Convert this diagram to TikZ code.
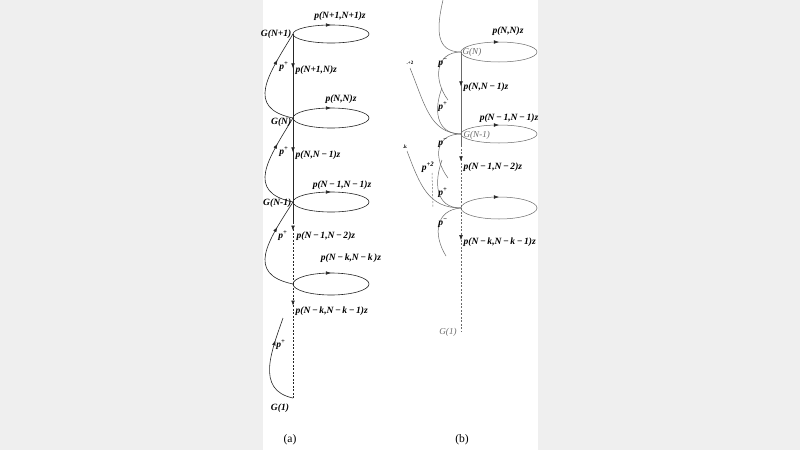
\documentclass[tikz,border=0pt]{standalone}
\usepackage{fontspec}
\setmainfont{Liberation Serif}
\usetikzlibrary{arrows.meta,decorations.markings}
\definecolor{lineA}{HTML}{262626}
\definecolor{lineB}{HTML}{6A6A6A}
\definecolor{bgGrey}{HTML}{EFEFEF}
\tikzset{
  markarr/.style={postaction={decorate},
    decoration={markings,mark=at position #1 with {\arrow[lineA]{Latex[length=5pt,width=3.6pt]}}}},
}

\begin{document}
\begin{tikzpicture}[x=0.035cm,y=-0.035cm,
    lbl/.style={font=\fontsize{9.5}{11}\selectfont\bfseries\itshape,inner sep=0.5pt},
    glblB/.style={font=\fontsize{9}{11}\selectfont\itshape,text=lineB,inner sep=0.5pt},
    smalllbl/.style={font=\fontsize{5}{6}\selectfont\bfseries,inner sep=0.3pt},
    caplbl/.style={font=\fontsize{11.5}{13}\selectfont,inner sep=0.5pt},
    pathA/.style={draw=lineA,line width=0.6pt},
    pathB/.style={draw=lineB,line width=0.5pt},
    dashA/.style={dash pattern=on 2pt off 1.5pt}]
  % background and frame of the figure
  \fill[bgGrey] (0,0) rectangle (800,450);
  \fill[white] (263,0) rectangle (538,450);
  \useasboundingbox (0,0) rectangle (800,450);

  % ---------- (a) ----------
  \coordinate (aG1) at (293,34);
  \coordinate (aG2) at (293,118);
  \coordinate (aG3) at (293,202);
  \coordinate (aG4) at (293,284);
  \coordinate (aG5) at (293,398);
  \coordinate (aDash) at (293,222);
  \coordinate (aTail) at (283,318);
  \coordinate (aE1) at (331,34);
  \coordinate (aE2) at (331,118);
  \coordinate (aE3) at (331,202);
  \coordinate (aE4) at (331,284);

  \draw[pathA,markarr=0.75] (aE1) ellipse (38 and 9);
  \draw[pathA,markarr=0.75] (aE2) ellipse (38 and 10);
  \draw[pathA,markarr=0.75] (aE3) ellipse (38 and 10);
  \draw[pathA,markarr=0.75] (aE4) ellipse (38 and 11);

  \draw[pathA,markarr=0.41] (aG1) -- (aG2);
  \draw[pathA,markarr=0.41] (aG2) -- (aG3);
  \draw[pathA] (aG3) -- (aDash);
  \draw[pathA,dashA,markarr=0.14] (aDash) -- (aG4);
  \draw[pathA,dashA,markarr=0.19] (aG4) -- (aG5);

  \draw[pathA,markarr=0.72] (aG2) .. controls (245,108) and (268,75) .. (aG1);
  \draw[pathA,markarr=0.72] (aG3) .. controls (245,192) and (268,159) .. (aG2);
  \draw[pathA,markarr=0.72] (aG4) .. controls (245,274) and (268,241) .. (aG3);
  \draw[pathA,markarr=0.75] (aG5) .. controls (255,390) and (272,350) .. (aTail);

  \node[lbl] (aL1) at (340,16) {p(N+1,N+1)z};
  \node[lbl,anchor=east] (aGl1) at (292,34) {G(N+1)};
  \node[lbl] (aP1) at (284,67) {p\textsuperscript{+}};
  \node[lbl,anchor=west] (aV1) at (295,70) {p(N+1,N)z};
  \node[lbl] (aL2) at (341,99) {p(N,N)z};
  \node[lbl,anchor=east] (aGl2) at (292,122) {G(N)};
  \node[lbl] (aP2) at (284,152) {p\textsuperscript{+}};
  \node[lbl,anchor=west] (aV2) at (295,155) {p(N,N\,−\,1)z};
  \node[lbl] (aL3) at (342,185) {p(N\,−\,1,N\,−\,1)z};
  \node[lbl,anchor=east] (aGl3) at (292,203) {G(N-1)};
  \node[lbl] (aP3) at (283,236) {p\textsuperscript{+}};
  \node[lbl,anchor=west] (aV3) at (296,236) {p(N\,−\,1,N\,−\,2)z};
  \node[lbl] (aL4) at (351,258) {p(N\,−\,k,N\,−\,k\,)z};
  \node[lbl,anchor=west] (aV4) at (295,311) {p(N\,−\,k,N\,−\,k\,−\,1)z};
  \node[lbl] (aP4) at (281,345) {p\textsuperscript{+}};
  \node[lbl] (aGl5) at (280,408) {G(1)};
  \node[caplbl] (aCap) at (290,440) {(a)};

  % ---------- (b) ----------
  \coordinate (bG1) at (461,52);
  \coordinate (bG2) at (461,134);
  \coordinate (bG3) at (461,208);
  \coordinate (bG4) at (461,332);
  \coordinate (bDash) at (461,145);
  \coordinate (bE1) at (499,52);
  \coordinate (bE2) at (499,134);
  \coordinate (bE3) at (499,208);
  \coordinate (bTop) at (443,0);
  \coordinate (bX1a) at (448,100);
  \coordinate (bX1b) at (442,88);
  \coordinate (bX2a) at (448,178);
  \coordinate (bX2b) at (442,160);
  \coordinate (bS1) at (410,68);
  \coordinate (bS2) at (407,151);
  \coordinate (bD1) at (432,173);
  \coordinate (bD2) at (433,207);
  \coordinate (bTail) at (446,256);

  \draw[pathB,markarr=0.75] (bE1) ellipse (38 and 10);
  \draw[pathB,markarr=0.75] (bE2) ellipse (38 and 9);
  \draw[pathB,markarr=0.75] (bE3) ellipse (38 and 11);

  \draw[pathB,markarr=0.42] (bG1) -- (bG2);
  \draw[pathB] (bG2) -- (bDash);
  \draw[pathB,dashA,markarr=0.26] (bDash) -- (bG3);
  \draw[pathB,dashA,markarr=0.26] (bG3) -- (bG4);

  \draw[pathB] (bTop) .. controls (436,30) and (436,52) .. (bG1);
  \draw[pathB] (bG1) .. controls (435,52) and (433,80) .. (bX1a);
  \draw[pathB] (bX1b) .. controls (434,108) and (435,134) .. (bG2);
  \draw[pathB] (bS1) .. controls (425,105) and (430,133) .. (bG2);
  \draw[pathB] (bG2) .. controls (435,134) and (433,158) .. (bX2a);
  \draw[pathB] (bX2b) .. controls (434,182) and (435,208) .. (bG3);
  \draw[pathB] (bS2) .. controls (420,185) and (428,208) .. (bG3);
  \draw[pathB,dashA] (bD1) -- (bD2);
  \draw[pathB] (bG3) .. controls (435,210) and (433,235) .. (bTail);

  \node[lbl] (bL1) at (508,31) {p(N,N)z};
  \node[glblB,anchor=west] (bGl1) at (462,52) {G(N)};
  \node[lbl] (bM1) at (443,63) {p\textsuperscript{−}};
  \node[smalllbl] (bS1l) at (410,63) {.+2};
  \node[lbl,anchor=west] (bV1) at (463,87) {p(N,N\,−\,1)z};
  \node[lbl] (bP1) at (443,107) {p\textsuperscript{+}};
  \node[lbl] (bL2) at (509,118) {p(N\,−\,1,N\,−\,1)z};
  \node[glblB,anchor=west] (bGl2) at (463,135) {G(N-1)};
  \node[lbl] (bM2) at (443,143) {p\textsuperscript{−}};
  \node[smalllbl] (bS2l) at (405,147) {.k};
  \node[lbl] (bPP) at (428,167) {p\textsuperscript{+2}};
  \node[lbl,anchor=west] (bV2) at (463,167) {p(N\,−\,1,N\,−\,2)z};
  \node[lbl] (bP2) at (443,193) {p\textsuperscript{+}};
  \node[lbl] (bM3) at (443,223) {p\textsuperscript{−}};
  \node[lbl,anchor=west] (bV3) at (463,242) {p(N\,−\,k,N\,−\,k\,−\,1)z};
  \node[glblB] (bGl4) at (448,332) {G(1)};
  \node[caplbl] (bCap) at (462,440) {(b)};
\end{tikzpicture}
\end{document}
